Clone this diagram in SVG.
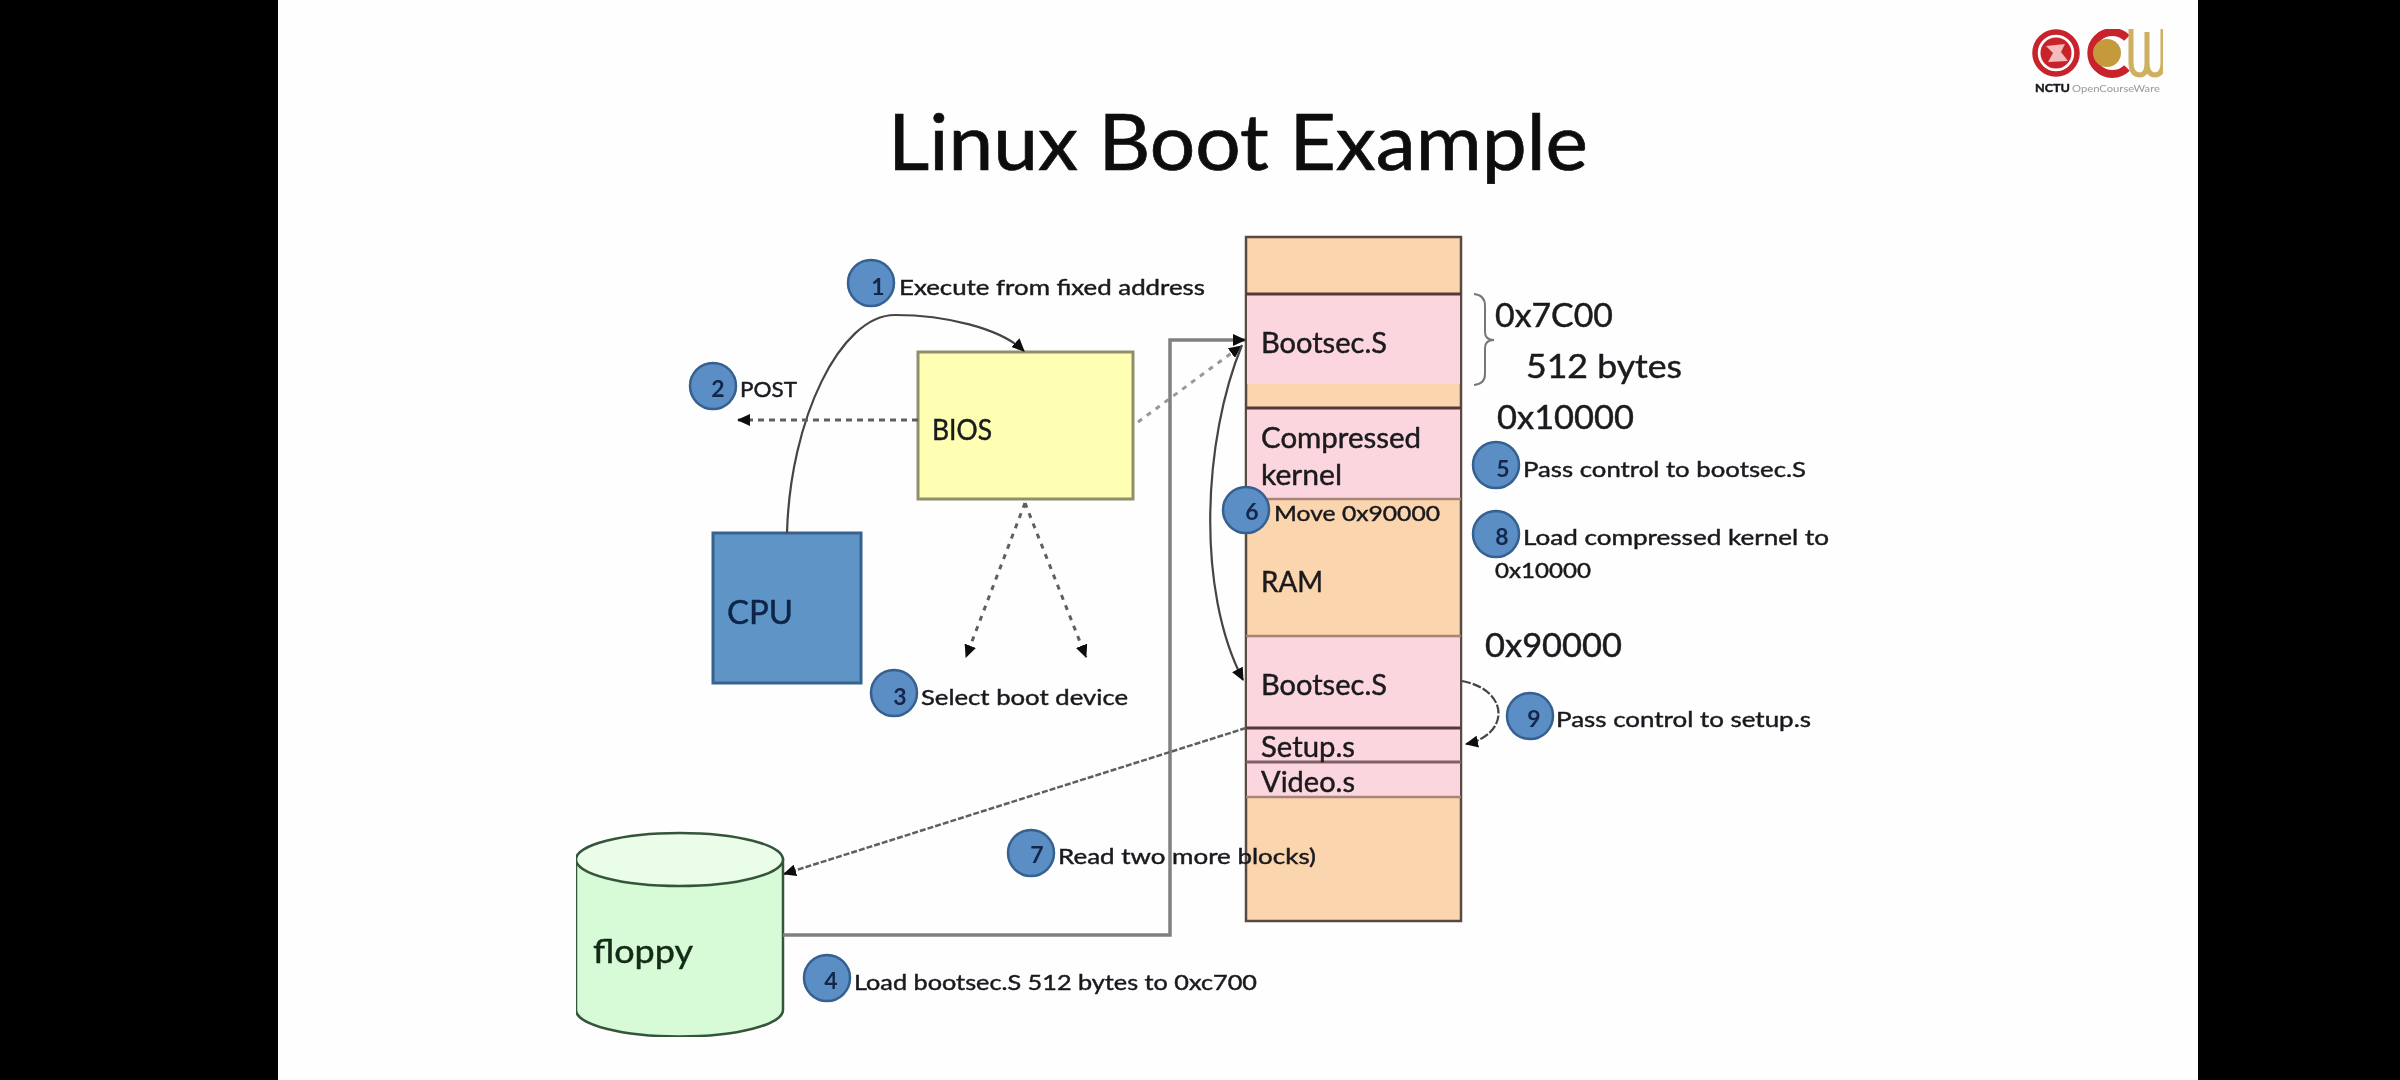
<svg xmlns="http://www.w3.org/2000/svg" width="2400" height="1080" viewBox="0 0 2400 1080">
<style>
text{font-family:Lato,"Liberation Sans",sans-serif;fill:#1a1a1e;stroke:#1a1a1e;stroke-width:.45}
.t{font-size:29px}.s{font-size:22px}.b{font-size:32px}
.n{font-size:23px;font-weight:700;fill:#12264a;stroke:none;text-anchor:middle}
.c{fill:#5b8ec6;stroke:#35608f;stroke-width:2.5}
.ram{fill:#fbd5ae;stroke:#5a483f;stroke-width:2.5}
.pk{fill:#fcd6de;stroke:none}
.div{stroke:#55383a;stroke-width:3;fill:none}
.dot{fill:none;stroke:#5f5f5f;stroke-width:3;stroke-dasharray:5 6}
.thin{fill:none;stroke:#444;stroke-width:2.2}
</style>
<defs>
<marker id="ah" markerUnits="userSpaceOnUse" markerWidth="14" markerHeight="12" refX="12" refY="6" orient="auto"><path d="M0 0L13 6L0 12z" fill="#0c0c0c"/></marker>
<filter id="soft" x="0" y="0" width="1" height="1"><feGaussianBlur stdDeviation="0.7"/></filter>
</defs>
<rect width="2400" height="1080" fill="#000"/>
<rect x="278" y="0" width="1920" height="1080" fill="#fefefe"/>
<g filter="url(#soft)">
<text id="title" x="888" y="170" font-size="77" textLength="700" lengthAdjust="spacingAndGlyphs" style="fill:#0a0a0a;stroke:#0a0a0a;stroke-width:.7">Linux Boot Example</text>

<g id="logo">
<circle cx="2056" cy="53" r="21" fill="none" stroke="#c8202c" stroke-width="5.5"/>
<circle cx="2056" cy="53" r="15.5" fill="#c8202c"/>
<path d="M2046 46L2065 44L2061 52L2068 61L2048 62L2053 53z" fill="#f2bcbc"/>
<path d="M2127 38A21 21 0 1 0 2127 68" fill="none" stroke="#c8202c" stroke-width="8"/>
<circle cx="2107" cy="53" r="14" fill="#c49a3c"/>
<path d="M2131 29V62Q2131 75 2140 75Q2147 75 2147 62V32M2147 62Q2147 75 2155 75Q2163 75 2163 62V29" fill="none" stroke="#cdb060" stroke-width="5"/>
<text x="2035" y="92" font-size="11" font-weight="700" textLength="35" lengthAdjust="spacingAndGlyphs">NCTU</text>
<text x="2072" y="92" font-size="9" textLength="88" lengthAdjust="spacingAndGlyphs" style="fill:#999;stroke:none">OpenCourseWare</text>
</g>

<g id="ram">
<rect class="ram" x="1246" y="237" width="215" height="684"/>
<rect class="pk" x="1247" y="295" width="213" height="89"/>
<rect class="pk" x="1247" y="409" width="213" height="90"/>
<rect class="pk" x="1247" y="638" width="213" height="159"/>
<path class="div" d="M1246 294H1461M1246 408H1461"/>
<path class="div" style="stroke-width:2.5;stroke:#a8857a" d="M1246 499H1461M1246 636H1461M1246 797H1461"/>
<path class="div" d="M1246 728H1461"/>
<path class="div" style="stroke:#806068" d="M1246 762H1461"/>
<text class="t" x="1261" y="353" textLength="126" lengthAdjust="spacingAndGlyphs">Bootsec.S</text>
<text class="t" x="1261" y="448" textLength="160" lengthAdjust="spacingAndGlyphs">Compressed</text>
<text class="t" x="1261" y="485" textLength="81" lengthAdjust="spacingAndGlyphs">kernel</text>
<text class="t" x="1261" y="592" textLength="62" lengthAdjust="spacingAndGlyphs">RAM</text>
<text class="t" x="1261" y="695" textLength="126" lengthAdjust="spacingAndGlyphs">Bootsec.S</text>
<text class="t" x="1261" y="757" textLength="94" lengthAdjust="spacingAndGlyphs">Setup.s</text>
<text class="t" x="1261" y="792" textLength="94" lengthAdjust="spacingAndGlyphs">Video.s</text>
</g>

<g id="cpu">
<rect x="713" y="533" width="148" height="150" fill="#5f94c6" stroke="#38628e" stroke-width="3"/>
<text x="727" y="624" font-size="32" textLength="66" lengthAdjust="spacingAndGlyphs" style="fill:#0d2546;stroke:#0d2546">CPU</text>
</g>
<g id="bios">
<rect x="918" y="352" width="215" height="147" fill="#ffffb4" stroke="#8f8f6c" stroke-width="3"/>
<text x="932" y="440" font-size="28" textLength="60" lengthAdjust="spacingAndGlyphs">BIOS</text>
</g>
<g id="floppy">
<path d="M576 859.5V1010A103.5 26.5 0 0 0 783 1010V859.5z" fill="#d7fbd7" stroke="#35553a" stroke-width="2.5"/>
<ellipse cx="679.5" cy="859.5" rx="103.5" ry="26.5" fill="#e9fde9" stroke="#35553a" stroke-width="2.5"/>
<text x="593" y="963" font-size="33" textLength="100" lengthAdjust="spacingAndGlyphs" style="fill:#122a18;stroke:#122a18">floppy</text>
</g>

<g id="connectors">
<path class="thin" d="M787 533C790 420 840 315 895 315C945 315 1000 328 1024 351" marker-end="url(#ah)"/>
<path class="dot" style="stroke-dasharray:6 5" d="M918 420H738" marker-end="url(#ah)"/>
<path class="dot" style="stroke:#999" d="M1138 422L1241 346" marker-end="url(#ah)"/>
<path class="dot" d="M1025 503L966 657" marker-end="url(#ah)"/>
<path class="dot" d="M1025 503L1086 657" marker-end="url(#ah)"/>
<path class="thin" d="M1242 345C1203 440 1196 590 1243 680" marker-end="url(#ah)"/>
<path d="M783 935H1170V340H1245" fill="none" stroke="#808080" stroke-width="3.5" marker-end="url(#ah)"/>
<path class="dot" style="stroke-dasharray:6 2;stroke-width:2.5" d="M1246 728L784 874" marker-end="url(#ah)"/>
<path class="thin" style="stroke-dasharray:9 2" d="M1462 681C1510 690 1510 735 1466 744" marker-end="url(#ah)"/>
<path d="M1474 294Q1485 295 1485 306V332Q1485 340 1494 340Q1485 340 1485 348V374Q1485 384 1474 385" fill="none" stroke="#777" stroke-width="2"/>
</g>

<g id="step1"><circle class="c" cx="871" cy="283" r="23"/><text class="n" x="878" y="295">1</text><text class="s" x="899" y="295" textLength="306" lengthAdjust="spacingAndGlyphs">Execute from fixed address</text></g>
<g id="step2"><circle class="c" cx="713" cy="386" r="23"/><text class="n" x="718" y="397">2</text><text class="s" x="740" y="397" textLength="57" lengthAdjust="spacingAndGlyphs">POST</text></g>
<g id="step3"><circle class="c" cx="894" cy="693" r="23"/><text class="n" x="900" y="705">3</text><text class="s" x="921" y="705" textLength="207" lengthAdjust="spacingAndGlyphs">Select boot device</text></g>
<g id="step4"><circle class="c" cx="827" cy="978" r="23"/><text class="n" x="831" y="989">4</text><text class="s" x="854" y="990" textLength="403" lengthAdjust="spacingAndGlyphs">Load bootsec.S 512 bytes to 0xc700</text></g>
<g id="step5"><circle class="c" cx="1496" cy="465" r="23"/><text class="n" x="1503" y="477">5</text><text class="s" x="1523" y="477" textLength="283" lengthAdjust="spacingAndGlyphs">Pass control to bootsec.S</text></g>
<g id="step6"><circle class="c" cx="1246" cy="510" r="23"/><text class="n" x="1252" y="520">6</text><text class="s" x="1274" y="521" textLength="166" lengthAdjust="spacingAndGlyphs">Move 0x90000</text></g>
<g id="step7"><circle class="c" cx="1031" cy="853" r="23"/><text class="n" x="1037" y="863">7</text><text class="s" x="1058" y="864" textLength="258" lengthAdjust="spacingAndGlyphs">Read two more blocks)</text></g>
<g id="step8"><circle class="c" cx="1496" cy="534" r="23"/><text class="n" x="1502" y="545">8</text><text class="s" x="1523" y="545" textLength="306" lengthAdjust="spacingAndGlyphs">Load compressed kernel to</text><text class="s" x="1495" y="578" textLength="96" lengthAdjust="spacingAndGlyphs">0x10000</text></g>
<g id="step9"><circle class="c" cx="1530" cy="716" r="23"/><text class="n" x="1534" y="727">9</text><text class="s" x="1556" y="727" textLength="255" lengthAdjust="spacingAndGlyphs">Pass control to setup.s</text></g>

<g id="addresses">
<text class="b" x="1495" y="327" textLength="118" lengthAdjust="spacingAndGlyphs">0x7C00</text>
<text class="b" x="1526" y="378" textLength="156" lengthAdjust="spacingAndGlyphs">512 bytes</text>
<text class="b" x="1497" y="429" textLength="137" lengthAdjust="spacingAndGlyphs">0x10000</text>
<text class="b" x="1485" y="657" textLength="137" lengthAdjust="spacingAndGlyphs">0x90000</text>
</g>
</g>
</svg>
